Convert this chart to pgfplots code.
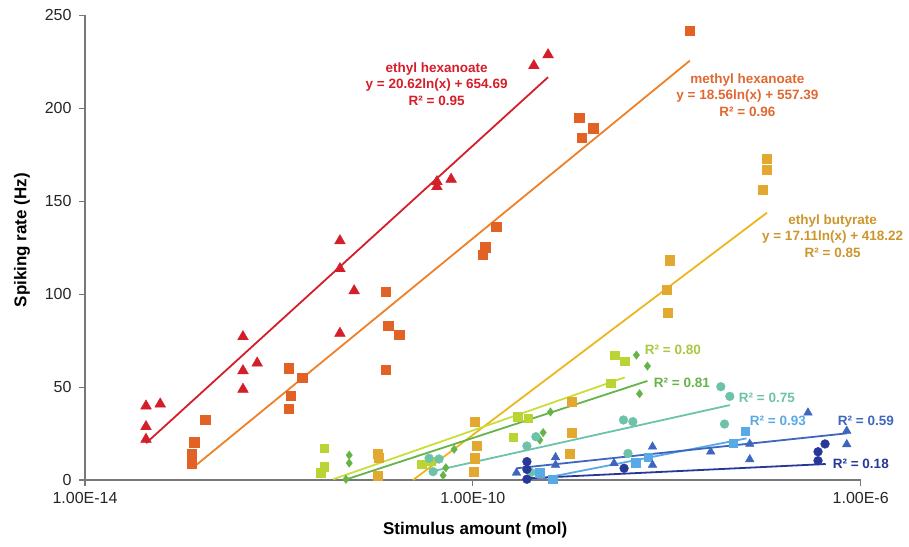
\documentclass[border=0pt]{standalone}
\usepackage{pgfplots}
\pgfplotsset{compat=1.18}
\usepackage{fontspec}
\setmainfont{Liberation Sans}
\definecolor{axisgray}{RGB}{120,120,120}
\definecolor{cRed}{RGB}{212,30,42}
\definecolor{cOrM}{RGB}{226,98,38}
\definecolor{cOrL}{RGB}{238,128,40}
\definecolor{cOrT}{RGB}{222,105,50}
\definecolor{cGoM}{RGB}{226,168,48}
\definecolor{cGoL}{RGB}{236,182,30}
\definecolor{cGoT}{RGB}{205,150,45}
\definecolor{cLime}{RGB}{186,212,52}
\definecolor{cLimeL}{RGB}{200,222,60}
\definecolor{cLimeT}{RGB}{170,200,62}
\definecolor{cGreen}{RGB}{100,180,72}
\definecolor{cTeal}{RGB}{108,195,170}
\definecolor{cLBlue}{RGB}{88,170,230}
\definecolor{cBlue}{RGB}{62,102,192}
\definecolor{cDBlue}{RGB}{40,56,152}
\begin{document}
\begin{tikzpicture}
\begin{axis}[
  scale only axis, width=775.7pt, height=464.7pt,
  xmode=log, xmin=1e-14, xmax=1e-6, ymin=0, ymax=250,
  axis lines=left, axis line style={-, draw=axisgray, line width=1.1pt},
  xtick={1e-14,1e-10,1e-6}, xticklabels={1.00E-14,1.00E-10,1.00E-6},
  ytick={0,50,100,150,200,250},
  xminorticks=false, yminorticks=false,
  tick align=outside, major tick length=6pt,
  tick style={draw=axisgray, line width=1.1pt},
  tick label style={font=\fontsize{16}{16}\selectfont, text=black!85},
  xticklabel style={yshift=-3pt},
  yticklabel style={xshift=-4pt},
  /pgf/number format/assume math mode=true,
  clip=false,
  xlabel={Stimulus amount (mol)}, ylabel={Spiking rate (Hz)},
  label style={font=\bfseries\fontsize{17}{17}\selectfont},
  xlabel style={at={(axis description cs:0.503,-0.1076)}, anchor=center},
  ylabel style={at={(axis description cs:-0.0812,0.516)}, anchor=center},
]
% ethyl hexanoate
\addplot[only marks, mark=triangle*, mark size=6.2pt, color=cRed] coordinates {
 (4.26e-14,39.8) (4.26e-14,28.7) (4.26e-14,21.9) (5.97e-14,40.9)
 (4.26e-13,77.1) (4.26e-13,58.8) (4.26e-13,48.8) (5.97e-13,62.9)
 (4.26e-12,128.7) (4.26e-12,113.7) (4.26e-12,78.9) (5.97e-12,101.8)
 (4.26e-11,160.5) (4.26e-11,157.8) (5.97e-11,161.8)
 (4.26e-10,222.9) (5.97e-10,228.8)};
\addplot[no marks, color=cRed, line width=1.8pt] coordinates {(4.26e-14,19.8) (5.97e-10,216.7)};
% methyl hexanoate
\addplot[only marks, mark=square*, mark size=4.6pt, color=cOrM] coordinates {
 (1.27e-13,14.3) (1.27e-13,9.0) (1.34e-13,20.3) (1.74e-13,32.3)
 (1.26e-12,60.1) (1.26e-12,38.2) (1.33e-12,45.2) (1.74e-12,55.2)
 (1.26e-11,101.1) (1.26e-11,59.2) (1.34e-11,83.2) (1.74e-11,78.2)
 (1.26e-10,121.4) (1.34e-10,125.2) (1.74e-10,136.1)
 (1.25e-9,195.1) (1.33e-9,184.1) (1.74e-9,189.3)
 (1.73e-8,241.7)};
\addplot[no marks, color=cOrL, line width=1.8pt] coordinates {(1.27e-13,6.2) (1.73e-8,225.6)};
% ethyl butyrate
\addplot[only marks, mark=square*, mark size=4.6pt, color=cGoM] coordinates {
 (1.05e-11,14.3) (1.07e-11,12.0) (1.05e-11,2.5)
 (1.05e-10,31.4) (1.09e-10,18.3) (1.05e-10,11.7) (1.02e-10,4.3)
 (1.04e-9,42.3) (1.04e-9,25.5) (0.99e-9,14.3)
 (1.07e-8,118.2) (0.99e-8,102.2) (1.02e-8,90.2)
 (1.08e-7,173.0) (1.07e-7,167.1) (0.98e-7,156.0)};
\addplot[no marks, color=cGoL, line width=1.8pt] coordinates {(2.42e-11,0) (1.08e-7,143.8)};
% R2 = 0.80 (lime squares)
\addplot[only marks, mark=square*, mark size=4.2pt, color=cLime] coordinates {
 (2.93e-12,17.0) (2.93e-12,7.2) (2.69e-12,3.9)
 (2.96e-11,8.4) (3.66e-11,10.2)
 (2.60e-10,23.1) (2.89e-10,34.1) (3.72e-10,33.2)
 (2.65e-9,52.2) (2.91e-9,67.2) (3.69e-9,64.0)};
\addplot[no marks, color=cLimeL, line width=1.8pt] coordinates {(3.63e-12,0.4) (3.69e-9,55.2)};
% R2 = 0.81 (green diamonds)
\addplot[only marks, mark=diamond*, mark size=4.2pt, color=cGreen] coordinates {
 (5.31e-12,13.4) (5.31e-12,9.1) (4.91e-12,0.4)
 (5.27e-11,6.6) (4.94e-11,2.5) (6.41e-11,16.5)
 (4.91e-10,21.5) (5.31e-10,25.5) (6.32e-10,36.6)
 (4.86e-9,67.2) (6.32e-9,61.3) (5.24e-9,46.4)};
\addplot[no marks, color=cGreen, line width=1.8pt] coordinates {(4.99e-12,0.4) (6.32e-9,53.3)};
% R2 = 0.75 (teal circles)
\addplot[only marks, mark=*, mark size=4.4pt, color=cTeal] coordinates {
 (3.54e-11,11.7) (4.48e-11,11.3) (3.89e-11,4.5)
 (3.61e-10,18.3) (4.47e-10,23.3) (3.98e-10,4.1)
 (3.58e-9,32.3) (4.47e-9,31.4) (3.98e-9,14.3)
 (3.61e-8,50.2) (4.47e-8,45.0) (3.94e-8,30.1)};
\addplot[no marks, color=cTeal, line width=1.8pt] coordinates {(4.06e-11,5.0) (4.47e-8,40.3)};
% R2 = 0.93 (light blue squares)
\addplot[only marks, mark=square*, mark size=4.2pt, color=cLBlue] coordinates {
 (4.91e-10,3.9) (6.64e-10,0.4)
 (4.79e-9,9.3) (6.47e-9,12.3)
 (4.83e-8,19.7) (6.41e-8,26.4)};
\addplot[no marks, color=cLBlue, line width=1.8pt] coordinates {(5.31e-10,0.9) (6.64e-8,22.4)};
% R2 = 0.59 (blue triangles)
\addplot[only marks, mark=triangle*, mark size=5pt, color=cBlue] coordinates {
 (2.82e-10,3.9) (7.13e-10,12.2) (7.13e-10,8.1)
 (2.86e-9,9.0) (7.13e-9,17.9) (7.13e-9,8.1)
 (2.84e-8,15.2) (7.18e-8,19.4) (7.18e-8,11.1)
 (2.86e-7,36.2) (7.18e-7,26.4) (7.18e-7,19.2)};
\addplot[no marks, color=cBlue, line width=1.8pt] coordinates {(2.82e-10,6.3) (7.18e-7,25.1)};
% R2 = 0.18 (dark blue circles)
\addplot[only marks, mark=*, mark size=4.4pt, color=cDBlue] coordinates {
 (3.61e-10,9.9) (3.61e-10,5.7) (3.61e-10,0.4)
 (3.63e-9,6.3)
 (4.29e-7,19.4) (3.63e-7,15.2) (3.63e-7,10.4)};
\addplot[no marks, color=cDBlue, line width=1.8pt] coordinates {(3.61e-10,0.9) (4.36e-7,8.6)};
% labels
\begin{scope}[every node/.style={font=\bfseries\fontsize{13.5}{16.5}\selectfont, align=center, inner sep=0pt}]
\node[text=cRed] at (axis cs:4.23e-11,213) {ethyl hexanoate\\y = 20.62ln(x) + 654.69\\R² = 0.95};
\node[text=cOrT] at (axis cs:6.79e-8,207.1) {methyl hexanoate\\y = 18.56ln(x) + 557.39\\R² = 0.96};
\node[text=cGoT] at (axis cs:5.14e-7,131.3) {ethyl butyrate\\y = 17.11ln(x) + 418.22\\R² = 0.85};
\node[text=cLimeT, anchor=west] at (axis cs:5.93e-9,69.9) {R² = 0.80};
\node[text=cGreen, anchor=west] at (axis cs:7.34e-9,52.2) {R² = 0.81};
\node[text=cTeal, anchor=west] at (axis cs:5.52e-8,44.1) {R² = 0.75};
\node[text=cLBlue, anchor=west] at (axis cs:7.18e-8,31.7) {R² = 0.93};
\node[text=cBlue, anchor=west] at (axis cs:5.79e-7,31.7) {R² = 0.59};
\node[text=cDBlue, anchor=west] at (axis cs:5.14e-7,8.6) {R² = 0.18};
\end{scope}
\end{axis}
\pgfresetboundingbox
\useasboundingbox (-85pt,-66pt) rectangle (824pt,480pt);
\end{tikzpicture}
\end{document}
